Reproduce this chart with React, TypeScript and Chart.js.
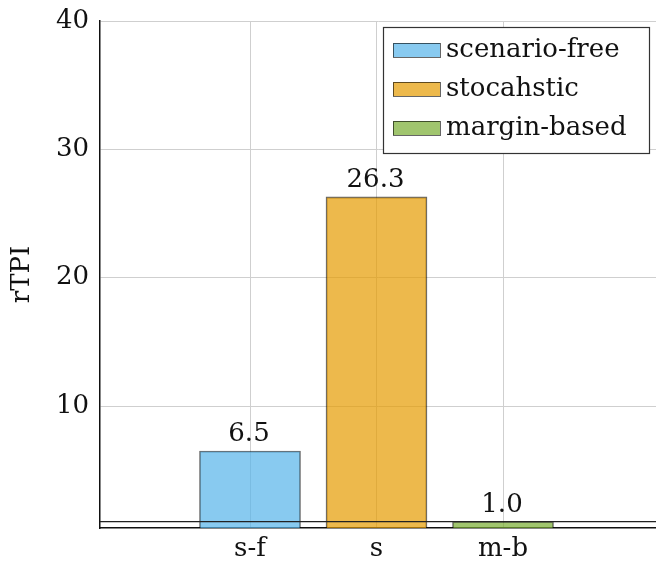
import React, { useEffect, useRef } from "react";
import { Chart, registerables } from "chart.js";

Chart.register(...registerables);

const categories = ["s-f", "s", "m-b"];
const seriesLabels = ["scenario-free", "stocahstic", "margin-based"];
const values = [6.5, 26.3, 1.0];
const yTicks = [10, 20, 30, 40];
const referenceLine = 1;
const fillColors = ["rgba(86,180,233,0.7)", "rgba(230,155,0,0.7)", "rgba(119,172,48,0.7)"];

const FONT = "'DejaVu Serif', serif";
const FS = 26;

const overlayPlugin = {
  id: "overlay",
  afterDatasetsDraw(chart: any) {
    const ctx = chart.ctx;
    const area = chart.chartArea;
    const y = chart.scales.y;
    const py = y.getPixelForValue(referenceLine);
    ctx.save();
    ctx.strokeStyle = "#222";
    ctx.lineWidth = 1.3;
    ctx.beginPath();
    ctx.moveTo(area.left, py);
    ctx.lineTo(area.right, py);
    ctx.stroke();
    ctx.fillStyle = "#111";
    ctx.font = `${FS}px ${FONT}`;
    ctx.textAlign = "center";
    ctx.textBaseline = "alphabetic";
    chart.data.datasets.forEach((ds: any, i: number) => {
      const meta = chart.getDatasetMeta(i);
      const el = meta.data[0];
      if (!el) return;
      const v = ds.data[0].y;
      ctx.fillText(v.toFixed(1), el.x - 1, el.y - 10);
    });
    const lx = 383, ly = 27, lw = 266, lh = 126;
    ctx.fillStyle = "#fff";
    ctx.fillRect(lx, ly, lw, lh);
    ctx.strokeStyle = "#333";
    ctx.lineWidth = 1.2;
    ctx.strokeRect(lx + 0.5, ly + 0.5, lw, lh);
    ctx.textAlign = "left";
    ctx.textBaseline = "middle";
    chart.data.datasets.forEach((ds: any, i: number) => {
      const cy = ly + 23 + i * 39;
      ctx.fillStyle = ds.backgroundColor;
      ctx.fillRect(393, cy - 7, 47, 14);
      ctx.strokeStyle = "rgba(0,0,0,0.6)";
      ctx.lineWidth = 1;
      ctx.strokeRect(393.5, cy - 6.5, 47, 14);
      ctx.fillStyle = "#111";
      ctx.font = `${FS}px ${FONT}`;
      ctx.fillText(ds.label, 446, cy);
    });
    ctx.restore();
  },
};

export default function App() {
  const ref = useRef<HTMLCanvasElement>(null);
  useEffect(() => {
    if (!ref.current) return;
    const pxPerUnit = 126.5;
    const chart = new Chart(ref.current, {
      type: "bar",
      data: {
        datasets: categories.map((c, i) => ({
          label: seriesLabels[i],
          data: [{ x: i, y: values[i] }],
          backgroundColor: fillColors[i],
          borderColor: "rgba(0,0,0,0.6)",
          borderWidth: 1.2,
          barThickness: 101,
          grouped: false,
        })) as any,
      },
      options: {
        responsive: false,
        animation: false,
        layout: { padding: { top: 21, right: 0, left: 0, bottom: 0 } },
        plugins: { legend: { display: false }, tooltip: { enabled: false } },
        scales: {
          x: {
            type: "linear",
            offset: false,
            min: -150 / pxPerUnit,
            max: 406 / pxPerUnit,
            afterBuildTicks: (s: any) => {
              s.ticks = categories.map((_, i) => ({ value: i }));
            },
            afterFit: (s: any) => {
              s.height = 46;
            },
            ticks: {
              callback: (v: any) => categories[Math.round(v)] ?? "",
              color: "#111",
              font: { family: FONT, size: FS },
              padding: 6,
              maxRotation: 0,
              autoSkip: false,
            },
            grid: { color: "#cfcfcf", lineWidth: 1, drawTicks: false, offset: false },
            border: { display: true, color: "#111", width: 1.5 },
          },
          y: {
            min: 0.5,
            max: 40,
            afterBuildTicks: (s: any) => {
              s.ticks = yTicks.map((v) => ({ value: v }));
            },
            afterFit: (s: any) => {
              s.width = 100;
              s.paddingTop = 0;
            },
            ticks: {
              color: "#111",
              font: { family: FONT, size: FS, lineHeight: 1 },
              padding: 11,
            },
            grid: { color: "#cfcfcf", lineWidth: 1, drawTicks: false },
            border: { display: true, color: "#111", width: 1.5 },
            title: {
              display: true,
              text: "rTPI",
              color: "#111",
              font: { family: FONT, size: FS },
              padding: { top: 7, bottom: 0 },
            },
          },
        },
      },
      plugins: [overlayPlugin],
    });
    return () => chart.destroy();
  }, []);
  return (
    <div style={{ position: "absolute", left: 0, top: 0, width: 656, height: 574, background: "#fff" }}>
      <canvas ref={ref} width={656} height={574} />
    </div>
  );
}
